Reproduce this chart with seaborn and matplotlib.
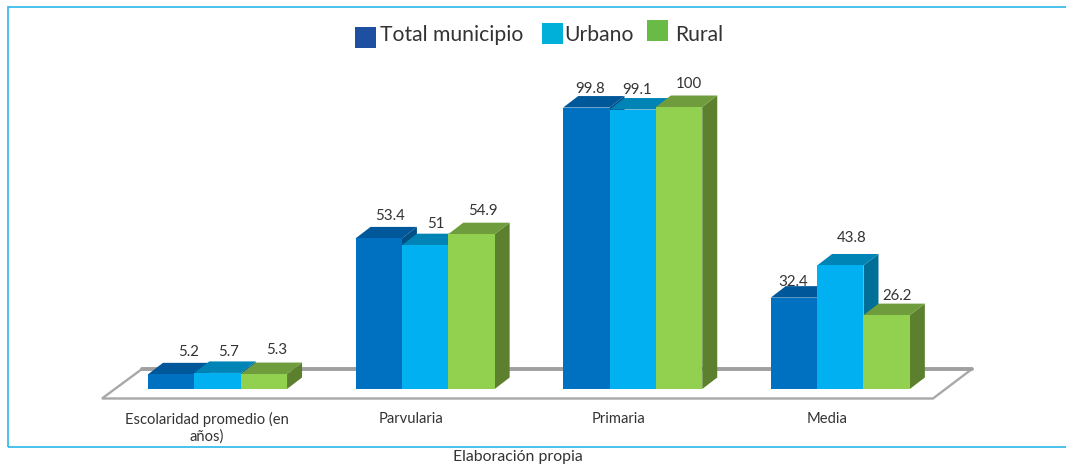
import matplotlib
matplotlib.use('Agg')
import matplotlib.pyplot as plt
from matplotlib.patches import Patch, Polygon, Rectangle
from matplotlib.lines import Line2D
from matplotlib.transforms import ScaledTranslation
import pandas as pd
import seaborn as sns

categorias = ['Escolaridad promedio (en\naños)', 'Parvularia', 'Primaria', 'Media']
series = ['Total municipio', 'Urbano', 'Rural']
total_municipio = [5.2, 53.4, 99.8, 32.4]
urbano = [5.7, 51, 99.1, 43.8]
rural = [5.3, 54.9, 100, 26.2]

colores_frente = ['#0070c0', '#00b0f0', '#92d050']
colores_techo = ['#00589a', '#0083b5', '#6f9c3c']
colores_lado = ['#004f86', '#006f98', '#5d802f']
colores_leyenda = ['#1f4fa0', '#00b0d8', '#6abb45']

W, H = 1066, 466
PASO = 207.6        # px entre categorias
ESCALA = 2.82       # px por unidad
FONDO_X, FONDO_Y = 15, 11.5

# ajuste a mano de las etiquetas de datos (px, por categoria y serie)
etiqueta_dx = [[17, 11, 13], [11, 11, 11], [4, 4, 10], [-1, 11, 10]]
etiqueta_dy = [[22, 21, 24], [22, 21, 23], [19, 20, 23], [16, 27, 19]]
tick_dx = [-11, -14, -14, -13]

df = pd.DataFrame({'categoria': categorias * 3,
                   'serie': [s for s in series for _ in categorias],
                   'valor': total_municipio + urbano + rural})

sns.set_theme(style='white')
plt.rcParams['font.family'] = ['Lato', 'DejaVu Sans']

fig = plt.figure(figsize=(W / 100, H / 100), dpi=100, facecolor='white')
ax = fig.add_axes([8 / W, (H - 389) / H, 1050 / W, 329 / H])
ax.patch.set_visible(False)


def px(x, y):
    return (x / W, (H - y) / H)


# suelo del grafico
fig.add_artist(Polygon([px(102, 398.5), px(142, 369), px(972, 369), px(933, 398.5)], closed=True,
                       facecolor='white', edgecolor='#a8a8a8', linewidth=1.7, zorder=-2,
                       transform=fig.transFigure))
fig.add_artist(Line2D([142 / W, 972 / W], [(H - 369) / H] * 2, color='#a0a0a0', linewidth=2.8,
                      zorder=-1, transform=fig.transFigure))

# marco, sin lado derecho: sale de la imagen
fig.add_artist(Rectangle(px(8, 447), 1070 / W, 440 / H, fill=False, edgecolor='#29b6ea',
                         linewidth=1.2, zorder=-3, transform=fig.transFigure))

sns.barplot(data=df, x='categoria', y='valor', hue='serie', order=categorias, hue_order=series,
            palette=colores_frente, saturation=1, width=0.67, gap=0, legend=False, ax=ax)

ax.set_xlim(-(217.5 - 8) / PASO, (1058 - 217.5) / PASO)
ax.set_ylim(0, 329 / ESCALA)
sns.despine(ax=ax, left=True, bottom=True)
ax.set_xlabel('')
ax.set_ylabel('')
ax.set_yticks([])
ax.tick_params(axis='x', length=0, pad=16.5, labelsize=10.6, labelcolor='#333333')

# caras laterales y superiores de cada barra
dx = FONDO_X / PASO
dy = FONDO_Y / ESCALA
barras = sorted(ax.patches, key=lambda b: b.get_x())
for i, barra in enumerate(barras):
    x0 = barra.get_x()
    x1 = x0 + barra.get_width()
    h = barra.get_height()
    z = 3 + i
    n_serie = i % 3
    n_cat = i // 3
    barra.set_zorder(z + 0.2)
    barra.set_linewidth(0)
    ax.add_patch(Polygon([(x1, 0), (x1 + dx, dy), (x1 + dx, h + dy), (x1, h)], closed=True,
                         facecolor=colores_lado[n_serie], linewidth=0, zorder=z, clip_on=False))
    ax.add_patch(Polygon([(x0, h), (x0 + dx, h + dy), (x1 + dx, h + dy), (x1, h)], closed=True,
                         facecolor=colores_techo[n_serie], linewidth=0, zorder=z + 0.1, clip_on=False))
    ax.annotate(f'{h:g}', xy=(x0 + barra.get_width() / 2, h),
                xytext=(etiqueta_dx[n_cat][n_serie] * 0.72, etiqueta_dy[n_cat][n_serie] * 0.72),
                textcoords='offset points', ha='center', va='center',
                fontsize=10.8, color='#333333', zorder=50, annotation_clip=False)

# etiquetas de categoria, desplazadas como en el original
for etiqueta, d in zip(ax.get_xticklabels(), tick_dx):
    etiqueta.set_transform(etiqueta.get_transform() + ScaledTranslation(d / 100, 0, fig.dpi_scale_trans))

manejadores = [Patch(facecolor=c, linewidth=0) for c in colores_leyenda]
leyenda = ax.legend(manejadores, series, ncol=3, frameon=False, loc='center',
                    bbox_to_anchor=(539 / W, (H - 35) / H), bbox_transform=fig.transFigure,
                    fontsize=15.2, handlelength=1, handleheight=1, handletextpad=0.2,
                    columnspacing=0.75, labelcolor='#333333')
for h_ley, d_y, d_x in zip(leyenda.legend_handles, [-3, 0, 2], [0, 2, -2]):
    h_ley.set_height(15.1)
    h_ley.set_width(15.1)
    h_ley.set_y(h_ley.get_y() + d_y)
    h_ley.set_x(h_ley.get_x() + d_x)

fig.text(518 / W, (H - 456.5) / H, 'Elaboración propia', ha='center', va='center',
         fontsize=11.4, color='#333333')

fig.savefig('out.png', dpi=100)
